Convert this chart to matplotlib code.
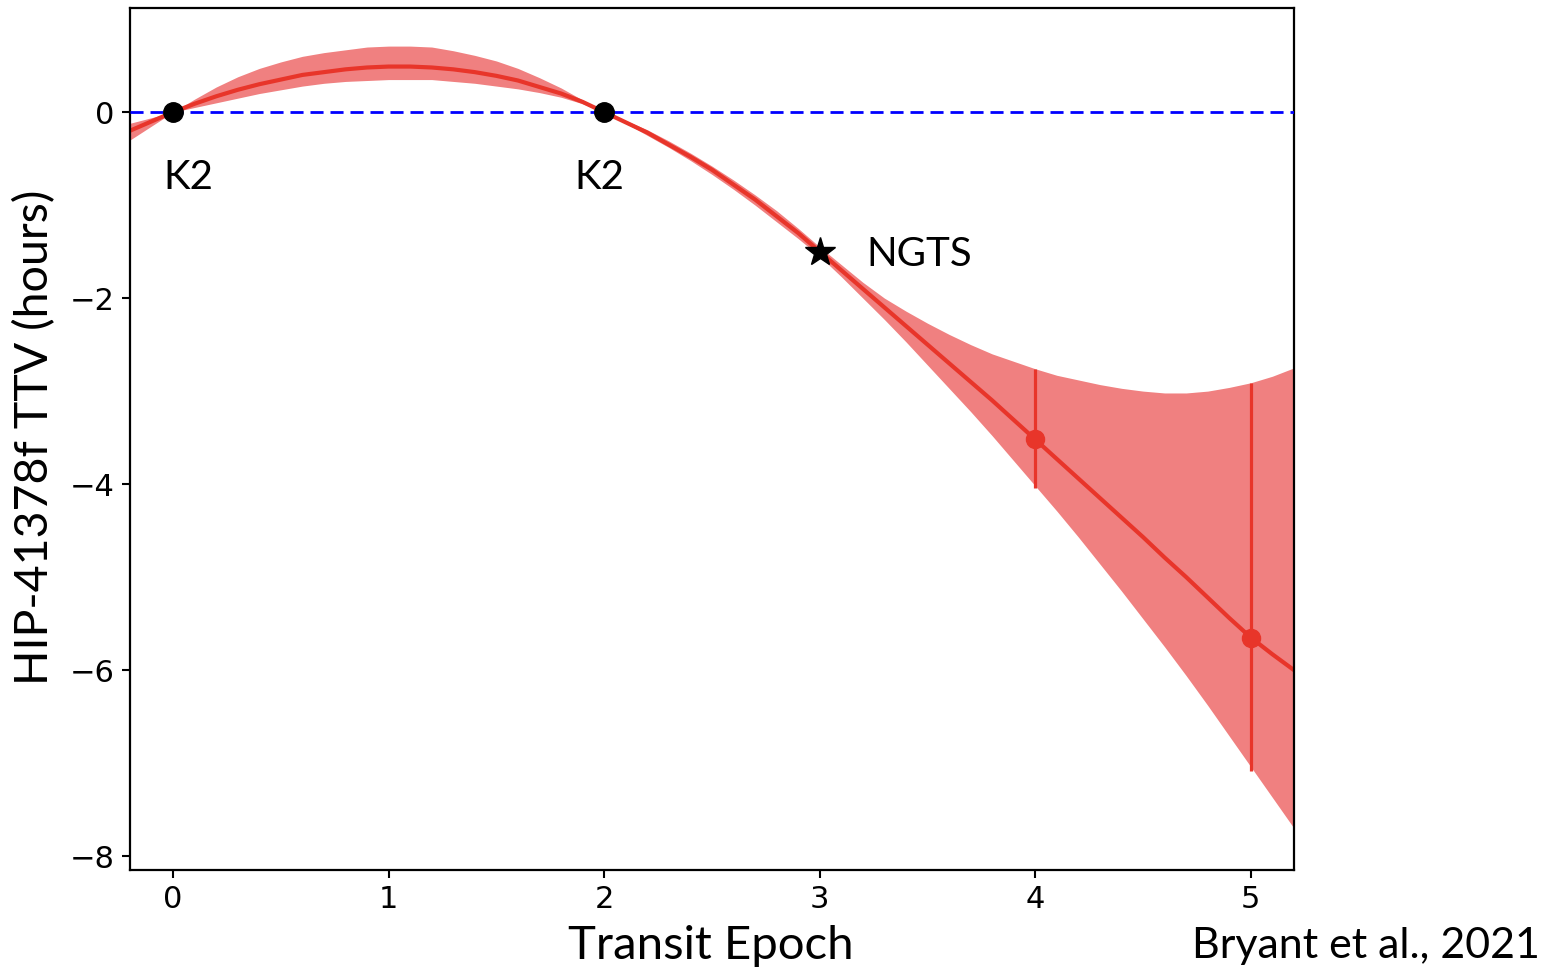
import matplotlib
matplotlib.use("Agg")
import matplotlib.pyplot as plt

# ---- data ----
epoch = [-0.2, -0.1, 0.0, 0.1, 0.2, 0.3, 0.4, 0.5, 0.6, 0.7, 0.8, 0.9,
         1.0, 1.1, 1.2, 1.3, 1.4, 1.5, 1.6, 1.7, 1.8, 1.9,
         2.0, 2.1, 2.2, 2.3, 2.4, 2.5, 2.6, 2.7, 2.8, 2.9,
         3.0, 3.1, 3.2, 3.3, 3.4, 3.5, 3.6, 3.7, 3.8, 3.9,
         4.0, 4.1, 4.2, 4.3, 4.4, 4.5, 4.6, 4.7, 4.8, 4.9,
         5.0, 5.1, 5.2]
ttv_model = [-0.20, -0.10, 0.00, 0.09, 0.17, 0.24, 0.30, 0.35, 0.40, 0.43, 0.46, 0.48,
             0.49, 0.49, 0.48, 0.46, 0.43, 0.39, 0.34, 0.27, 0.20, 0.11,
             0.00, -0.11, -0.22, -0.35, -0.48, -0.62, -0.78, -0.94, -1.12, -1.30,
             -1.50, -1.70, -1.90, -2.10, -2.30, -2.50, -2.70, -2.90, -3.10, -3.31,
             -3.52, -3.73, -3.94, -4.15, -4.36, -4.57, -4.79, -5.00, -5.22, -5.44,
             -5.65, -5.83, -6.00]
ttv_upper = [-0.12, -0.06, 0.00, 0.14, 0.27, 0.38, 0.47, 0.54, 0.60, 0.64, 0.67, 0.70,
             0.71, 0.71, 0.70, 0.66, 0.61, 0.55, 0.47, 0.37, 0.26, 0.13,
             0.00, -0.09, -0.19, -0.31, -0.44, -0.58, -0.73, -0.89, -1.06, -1.25,
             -1.45, -1.64, -1.83, -2.00, -2.14, -2.27, -2.39, -2.50, -2.60, -2.68,
             -2.76, -2.83, -2.88, -2.93, -2.97, -3.00, -3.02, -3.02, -3.00, -2.96,
             -2.91, -2.84, -2.75]
ttv_lower = [-0.30, -0.15, 0.00, 0.05, 0.10, 0.15, 0.20, 0.24, 0.28, 0.31, 0.33, 0.34,
             0.35, 0.35, 0.35, 0.33, 0.31, 0.28, 0.25, 0.21, 0.16, 0.09,
             0.00, -0.12, -0.25, -0.38, -0.52, -0.67, -0.83, -1.00, -1.18, -1.36,
             -1.55, -1.77, -2.00, -2.23, -2.47, -2.72, -2.97, -3.22, -3.48, -3.75,
             -4.02, -4.29, -4.57, -4.86, -5.15, -5.45, -5.75, -6.06, -6.38, -6.71,
             -7.04, -7.37, -7.70]

k2_epochs = [0, 2]
k2_ttv = [0.0, 0.0]
ngts_epoch = [3]
ngts_ttv = [-1.50]
pred_epochs = [4, 5]
pred_ttv = [-3.52, -5.65]
pred_err_low = [0.52, 1.43]
pred_err_high = [0.76, 2.74]

xticks = [0, 1, 2, 3, 4, 5]
yticks = [0, -2, -4, -6, -8]
ytick_labels = ["0", "\u22122", "\u22124", "\u22126", "\u22128"]

label_font = ["Lato", "DejaVu Sans"]
red = "#e8352a"

fig = plt.figure(figsize=(15.62, 9.72), dpi=100)
ax = fig.add_axes([0.0832, 0.1049, 0.7452, 0.8869])

ax.fill_between(epoch, ttv_lower, ttv_upper, color="#f08080", linewidth=0, zorder=1)
ax.plot(epoch, ttv_model, color=red, lw=3, zorder=2, solid_joinstyle="round")
ax.axhline(0, color="#0000ff", lw=2, linestyle=(0, (4.7, 2.5)), zorder=3)
ax.errorbar(pred_epochs, pred_ttv, yerr=[pred_err_low, pred_err_high], fmt="o",
            color=red, ms=13, elinewidth=2.3, capsize=0, zorder=4)
ax.plot(k2_epochs, k2_ttv, "o", color="black", ms=14, zorder=5)
ax.plot(ngts_epoch, ngts_ttv, "*", color="black", ms=22, zorder=5)

ax.text(-0.045, -0.70, "K2", fontsize=29, family=label_font, va="center", ha="left")
ax.text(1.860, -0.70, "K2", fontsize=29, family=label_font, va="center", ha="left")
ax.text(3.215, -1.53, "NGTS", fontsize=29, family=label_font, va="center", ha="left")

ax.set_xlim(-0.2, 5.2)
ax.set_ylim(-8.15, 1.12)
ax.set_xticks(xticks)
ax.set_yticks(yticks)
ax.set_yticklabels(ytick_labels)
ax.tick_params(labelsize=22, length=6, width=1.5, direction="out", pad=5)
for sp in ax.spines.values():
    sp.set_linewidth(1.6)

ax.set_xlabel("Transit Epoch", fontsize=34, family=label_font)
ax.xaxis.label.set_va("center")
ax.xaxis.set_label_coords(0.499, -0.088)
ax.set_ylabel("HIP-41378f TTV (hours)", fontsize=33.5, family=label_font)
ax.yaxis.label.set_va("center")
ax.yaxis.set_label_coords(-0.0816, 0.502)

fig.text(0.986, 0.027, "Bryant et al., 2021", fontsize=31, family=label_font,
         ha="right", va="center")

fig.savefig("out.png", dpi=100)
